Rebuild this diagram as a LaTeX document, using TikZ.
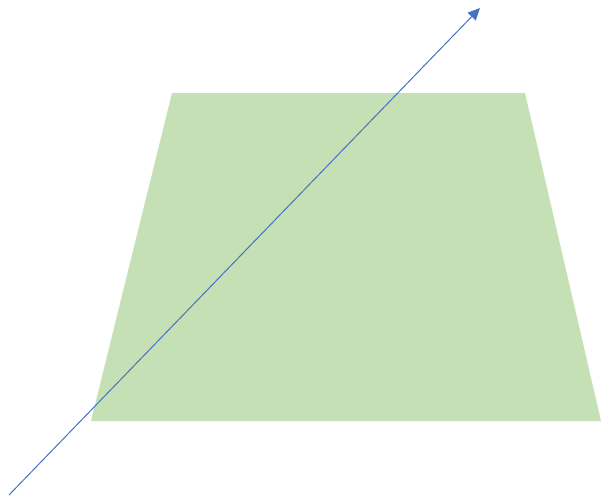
\documentclass[tikz,border=0pt]{standalone}
\usetikzlibrary{arrows.meta}
\definecolor{planegreen}{HTML}{C5E0B4}
\definecolor{rayblue}{HTML}{4472C4}
\begin{document}
\begin{tikzpicture}[
    x=1pt, y=-1pt,
    plane/.style={fill=planegreen, draw=none},
    ray/.style={draw=rayblue, line width=1pt, -{Triangle[length=12pt, width=11pt]}}
]
    \useasboundingbox (0,0) rectangle (601,498);

    % Plane
    \fill[plane] (172,93) -- (525,93) -- (601,421) -- (91,421) -- cycle;

    % Ray
    \coordinate (raystart) at (9,495);
    \coordinate (rayend) at (480,8);
    \draw[ray] (raystart) -- (rayend);

\end{tikzpicture}
\end{document}
